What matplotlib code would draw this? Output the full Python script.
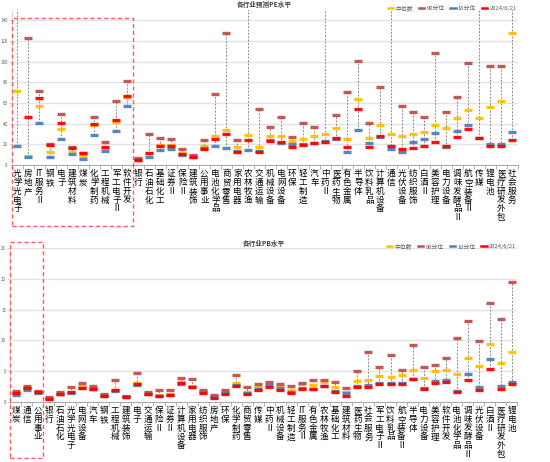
import numpy as np
import matplotlib
matplotlib.use('Agg')
import matplotlib.pyplot as plt
from matplotlib.patches import Rectangle
from matplotlib.lines import Line2D
import matplotlib.transforms as mtransforms

plt.rcParams['font.family'] = ['Noto Sans CJK SC', 'DejaVu Sans']

# 预测PE
pe_cats = ['光学光电子', '房地产', 'IT服务Ⅱ', '钢铁', '电子', '建筑材料', '煤炭', '化学制药', '工程机械',
           '军工电子Ⅱ', '软件开发', '银行', '石油石化', '基础化工', '证券Ⅱ', '保险Ⅱ', '建筑装饰', '公用事业',
           '电池化学品', '商贸零售', '家用电器', '农林牧渔', '交通运输', '机械设备', '电网设备', '环保', '轻工制造',
           '汽车', '中药Ⅱ', '医药生物', '有色金属', '半导体', '饮料乳品', '计算机设备', '通信', '光伏设备',
           '纺织服饰', '白酒Ⅱ', '美容护理', '电力设备', '调味发酵品Ⅱ', '航空装备Ⅱ', '传媒', '锂电池',
           '医疗研发外包', '社会服务']
pe_med = [71.2, 9.1, 56.6, 12.4, 34.5, 12.7, 8.8, 38.4, 16.3, 41.9, 65.8, 5.5, 11.8, 19.0, 19.2, 11.2,
          8.5, 17.9, 27.6, 33.5, 16.9, 28.6, 17.2, 28.3, 28.3, 23.4, 25.0, 28.0, 29.9, 35.4, 25.4, 64.0,
          26.3, 39.0, 29.9, 27.6, 29.9, 32.2, 39.0, 35.8, 45.5, 53.3, 45.2, 56.2, 61.4, 127.4]
pe_p90 = [170, 122.9, 71.5, 20.3, 49.1, 17.0, 12.0, 46.5, 21.8, 61.8, 81.3, 6.3, 30.2, 26.0, 25.0, 15.3,
          9.6, 23.7, 68.9, 127.4, 23.7, 170, 54.3, 37.0, 46.8, 27.0, 40.3, 36.4, 170, 48.4, 70.9, 100.4,
          40.6, 75.7, 170, 57.2, 51.4, 46.8, 108.2, 51.4, 65.3, 98.8, 170, 96.2, 96.2, 170]
pe_p10 = [18.5, 8.1, 40.6, 7.8, 25.0, 10.7, 5.9, 29.3, 13.3, 32.5, 57.5, 4.6, 7.8, 14.3, 15.6, 9.4,
          7.5, 16.2, 18.5, 16.6, 13.8, 14.6, 13.8, 23.7, 20.8, 20.5, 20.2, 21.3, 22.8, 25.0, 13.0, 34.1,
          21.5, 26.7, 15.6, 12.7, 22.1, 24.7, 30.6, 17.6, 33.2, 39.0, 26.0, 20.2, 20.2, 31.5]
pe_now = [160, 46.8, 65.0, 19.5, 41.0, 16.6, 11.4, 39.7, 17.2, 43.2, 66.3, 5.0, 11.1, 18.5, 18.5, 10.7,
          7.8, 15.9, 24.7, 29.9, 13.0, 24.0, 13.0, 22.8, 22.1, 17.2, 18.9, 20.8, 22.1, 26.0, 16.9, 54.6,
          17.2, 27.6, 18.5, 15.9, 16.6, 17.9, 22.4, 18.5, 27.0, 34.8, 26.3, 18.2, 18.5, 24.0]

# PB
pb_cats = ['煤炭', '通信', '公用事业', '银行', '石油石化', '光学光电子', '电网设备', '汽车', '钢铁', '工程机械',
           '建筑装饰', '电子', '交通运输', '保险Ⅱ', '证券Ⅱ', '计算机设备', '家用电器', '纺织服饰', '房地产', '环保',
           '化学制药', '商贸零售', '传媒', '中药Ⅱ', '机械设备', '轻工制造', 'IT服务Ⅱ', '有色金属', '农林牧渔',
           '基础化工', '建筑材料', '医药生物', '社会服务', '军工电子Ⅱ', '饮料乳品', '航空装备Ⅱ', '半导体',
           '电力设备', '美容护理', '软件开发', '电池化学品', '调味发酵品Ⅱ', '光伏设备', '白酒Ⅱ', '医疗研发外包',
           '锂电池']
pb_med = [1.5, 2.2, 1.6, 0.6, 1.3, 1.6, 2.5, 2.15, 1.1, 1.95, 0.8, 3.05, 1.3, 1.1, 1.28, 3.15, 2.6, 1.75,
          0.85, 1.55, 3.0, 1.65, 2.35, 2.85, 2.5, 1.95, 2.85, 2.8, 3.15, 2.4, 1.65, 3.35, 3.6, 4.15, 4.1,
          4.35, 5.15, 3.85, 4.95, 5.15, 4.5, 7.1, 5.85, 9.4, 6.35, 8.15]
pb_p90 = [1.7, 2.55, 1.7, 0.72, 1.65, 2.45, 3.05, 2.55, 1.28, 3.6, 0.95, 4.6, 1.55, 1.95, 1.85, 3.8, 3.7,
          1.95, 1.05, 1.85, 4.35, 2.35, 2.9, 3.15, 2.95, 2.5, 3.1, 3.6, 3.6, 3.15, 2.3, 4.95, 8.05, 5.65,
          7.65, 5.2, 9.3, 5.7, 5.95, 7.1, 10.45, 13.1, 9.95, 16.1, 13.45, 19.45]
pb_p10 = [1.15, 1.85, 1.5, 0.5, 1.2, 1.5, 2.2, 2.0, 0.9, 1.75, 0.75, 2.65, 1.25, 1.0, 1.15, 2.95, 2.35,
          1.65, 0.7, 1.35, 2.8, 1.4, 2.05, 2.7, 2.2, 1.65, 2.3, 2.15, 2.55, 1.8, 1.45, 2.5, 2.65, 3.05,
          3.1, 3.0, 3.7, 2.2, 3.4, 3.6, 1.8, 4.55, 2.45, 6.95, 2.6, 3.15]
pb_now = [1.4, 2.3, 1.55, 0.45, 1.28, 1.55, 2.2, 2.05, 0.85, 1.85, 0.72, 2.95, 1.22, 0.95, 1.1, 3.0, 2.4,
          1.5, 0.6, 1.28, 2.6, 1.28, 1.9, 2.4, 1.95, 1.4, 2.1, 2.05, 2.5, 1.55, 1.0, 2.45, 2.45, 2.9, 2.85,
          2.95, 3.65, 2.05, 3.05, 3.2, 1.55, 3.6, 1.95, 5.3, 2.1, 2.95]

series_names = ['中位数', '90分位', '10分位', '2024/6/21']
c_med, c_p90, c_p10, c_now = '#FFC000', '#C0504D', '#4F81BD', '#FF0000'
colors = [c_med, c_p90, c_p10, c_now]


def split_chars(s):
    # 竖排：每行一个字，IT 放在一行
    if s.startswith('IT'):
        return ['IT'] + list(s[2:])
    return list(s)


def draw(ax, cats, med, p90, p10, now, ymax, step, title):
    x = np.arange(len(cats))
    allv = np.vstack([med, p90, p10, now])
    ax.vlines(x, allv.min(axis=0), allv.max(axis=0), colors='#8C8C8C',
              linestyles=(0, (2, 1.5)), linewidth=0.7, zorder=2)
    for vals, c in zip([med, p90, p10, now], colors):
        ax.plot(x, vals, ls='none', marker='_', ms=5.5, mew=2.4, color=c,
                alpha=0.95, zorder=3)
    ax.set_xlim(-0.5, len(cats) - 0.5)
    ax.set_ylim(0, ymax)
    ax.set_yticks(np.arange(0, ymax + 0.01, step))
    ax.yaxis.grid(True, color='#E3E3E3', linewidth=1.0)
    ax.set_axisbelow(True)
    ax.set_xticks(np.arange(-0.5, len(cats), 1))
    ax.set_xticklabels([])
    ax.tick_params(axis='x', length=3, color='#A6A6A6', width=0.6)
    ax.tick_params(axis='y', labelsize=3.2, colors='#595959', length=2, width=0.5,
                   color='#BFBFBF', pad=1)
    # 竖排类别标签
    tr = mtransforms.blended_transform_factory(ax.transData, ax.transAxes)
    for i, name in enumerate(cats):
        for k, ch in enumerate(split_chars(name)):
            ax.annotate(ch, xy=(i, 0), xycoords=tr, xytext=(0, -6.3 - k * 6.35),
                        textcoords='offset points', ha='center', va='center',
                        fontsize=6.2, color='black', annotation_clip=False)
    for s in ['top', 'right']:
        ax.spines[s].set_visible(False)
    ax.spines['left'].set_color('#D0D0D0')
    ax.spines['left'].set_linewidth(0.6)
    ax.spines['bottom'].set_color('#A6A6A6')
    ax.spines['bottom'].set_linewidth(0.7)
    handles = [Line2D([], [], color=c, lw=1.8) for c in colors]
    ax.legend(handles, series_names, loc='lower right', bbox_to_anchor=(1.005, 0.97),
              ncol=4, frameon=False, fontsize=4.2, handlelength=0.9, handletextpad=0.4,
              columnspacing=1.0, borderpad=0.1, labelcolor='#595959')
    ax.set_title(title, fontsize=4.8, fontweight='bold', color='#404040', pad=2)


fig = plt.figure(figsize=(5.5, 4.62), dpi=100)
ax1 = fig.add_axes([0.0215, 0.643, 0.920, 0.3355])
ax2 = fig.add_axes([0.0185, 0.1305, 0.922, 0.332])

draw(ax1, pe_cats, pe_med, pe_p90, pe_p10, pe_now, 150, 20, '各行业预测PE水平')
draw(ax2, pb_cats, pb_med, pb_p90, pb_p10, pb_now, 25, 5, '各行业PB水平')

# 红色虚线框
for ax, n, y0, y1 in [(ax1, 11, -0.394, 0.945), (ax2, 3, -0.369, 1.04)]:
    tr = mtransforms.blended_transform_factory(ax.transData, ax.transAxes)
    ax.add_patch(Rectangle((-0.5, y0), n, y1 - y0, transform=tr, fill=False,
                           edgecolor='#FF5A5A', linestyle=(0, (3, 2)), linewidth=1.0,
                           clip_on=False, zorder=5))

fig.savefig('out.png', dpi=100)
